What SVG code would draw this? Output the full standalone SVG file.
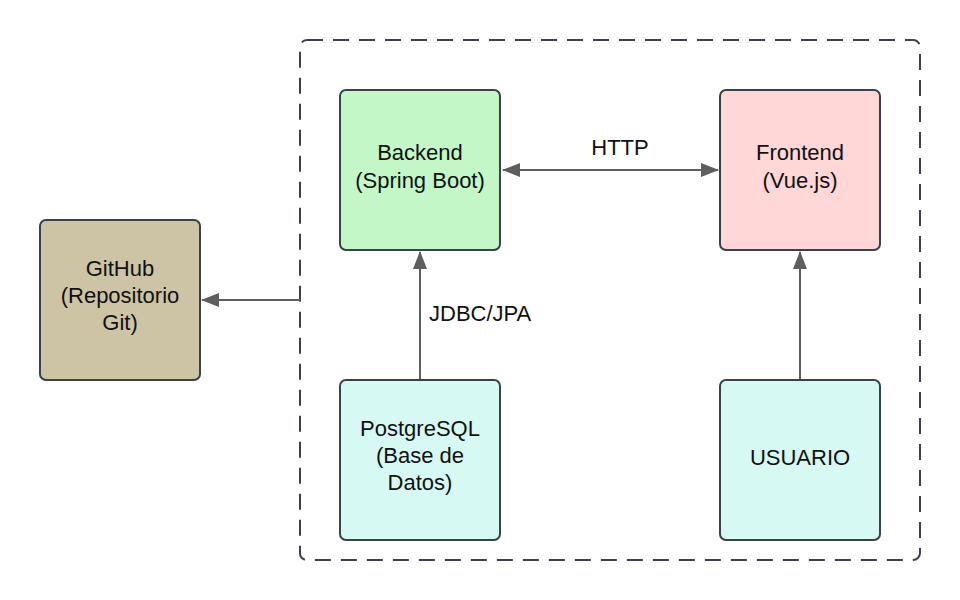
<svg xmlns="http://www.w3.org/2000/svg" width="960" height="600" viewBox="0 0 960 600">
<style>
.box{stroke:#3a414a;stroke-width:2}
.t{font-family:"Liberation Sans",Arial,sans-serif;font-size:22px;fill:#111;text-anchor:middle}
.lbl{font-family:"Liberation Sans",Arial,sans-serif;font-size:22px;fill:#111}
.c{stroke:#5e5e5e;stroke-width:2;fill:none}
</style>
<defs>
<marker id="ah" viewBox="0 0 18 14" refX="17" refY="7" markerWidth="18" markerHeight="14" markerUnits="userSpaceOnUse" orient="auto-start-reverse">
<path d="M0,0 L18,7 L0,14 Z" fill="#5e5e5e"/>
</marker>
</defs>
<rect width="960" height="600" fill="#ffffff"/>
<g id="container">
<rect x="300" y="40" width="620" height="520" rx="7" fill="none" stroke="#3a414a" stroke-width="2" stroke-dasharray="16 10"/>
</g>
<g id="connectors">
<line class="c" x1="503" y1="170" x2="718" y2="170" marker-start="url(#ah)" marker-end="url(#ah)"/>
<line class="c" x1="300" y1="300" x2="202" y2="300" marker-end="url(#ah)"/>
<line class="c" x1="420" y1="379" x2="420" y2="252" marker-end="url(#ah)"/>
<line class="c" x1="800" y1="379" x2="800" y2="252" marker-end="url(#ah)"/>
<text class="t" x="620" y="155">HTTP</text>
<text class="lbl" x="429" y="321">JDBC/JPA</text>
</g>
<g id="backend">
<rect class="box" x="340" y="90" width="160" height="160" rx="6" fill="#c3f7c8"/>
<text class="t" x="420" y="160">Backend</text>
<text class="t" x="420" y="188">(Spring Boot)</text>
</g>
<g id="frontend">
<rect class="box" x="720" y="90" width="160" height="160" rx="6" fill="#ffd7d7"/>
<text class="t" x="800" y="160">Frontend</text>
<text class="t" x="800" y="188">(Vue.js)</text>
</g>
<g id="github">
<rect class="box" x="40" y="220" width="160" height="160" rx="6" fill="#cdc4a5"/>
<text class="t" x="120" y="276">GitHub</text>
<text class="t" x="120" y="303">(Repositorio</text>
<text class="t" x="120" y="330">Git)</text>
</g>
<g id="postgresql">
<rect class="box" x="340" y="380" width="160" height="160" rx="6" fill="#d7f9f3"/>
<text class="t" x="420" y="436">PostgreSQL</text>
<text class="t" x="420" y="463">(Base de</text>
<text class="t" x="420" y="490">Datos)</text>
</g>
<g id="usuario">
<rect class="box" x="720" y="380" width="160" height="160" rx="6" fill="#d7f9f3"/>
<text class="t" x="800" y="465">USUARIO</text>
</g>
</svg>
